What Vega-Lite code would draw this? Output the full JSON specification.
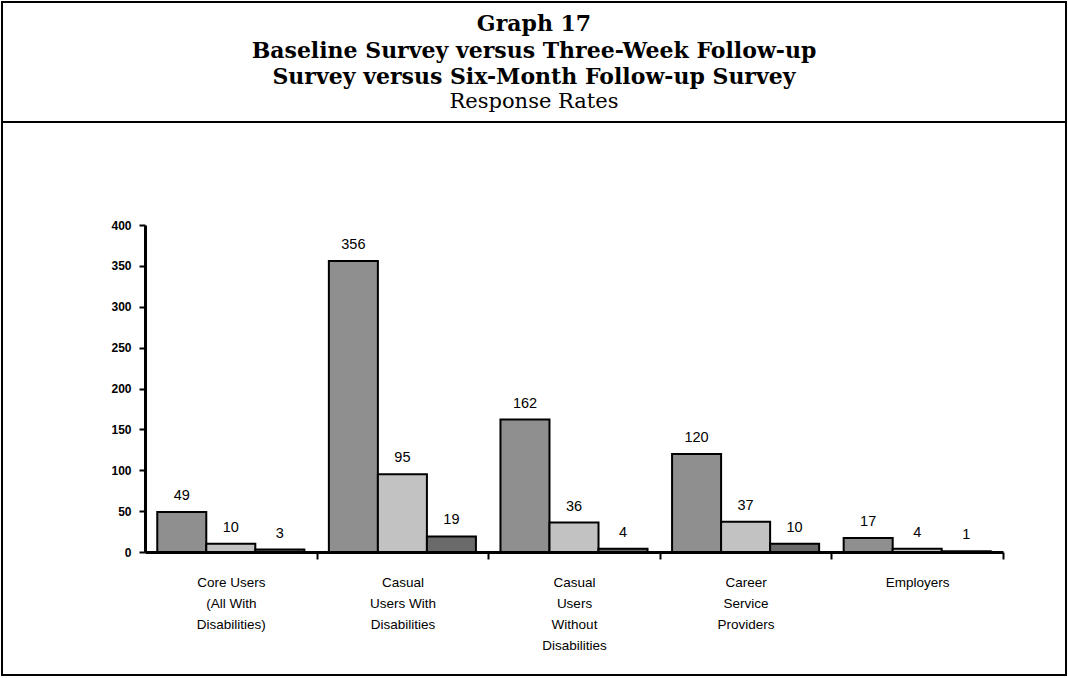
{
  "$schema": "https://vega.github.io/schema/vega-lite/v6.json",
  "width": 1064,
  "height": 673,
  "autosize": {"type": "none"},
  "padding": {"left": 2, "top": 2, "right": 2, "bottom": 3},
  "background": "white",
  "title": {
    "text": ["Graph 17", "Baseline Survey versus Three-Week Follow-up", "Survey versus Six-Month Follow-up Survey"],
    "subtitle": "Response Rates",
    "font": "DejaVu Serif",
    "fontSize": 22,
    "fontWeight": "bold",
    "color": "black",
    "lineHeight": 26.5,
    "subtitleFont": "DejaVu Serif",
    "subtitleFontSize": 21,
    "subtitleColor": "black",
    "subtitlePadding": 2,
    "subtitleLineHeight": 25,
    "offset": -111,
    "anchor": "middle",
    "frame": "group"
  },
  "config": {"view": {"stroke": "black", "strokeWidth": 2}},
  "data": {
    "values": [
      {"group": "Core Users (All With Disabilities)", "survey": "Baseline", "count": 49},
      {"group": "Core Users (All With Disabilities)", "survey": "Three-Week Follow-up", "count": 10},
      {"group": "Core Users (All With Disabilities)", "survey": "Six-Month Follow-up", "count": 3},
      {"group": "Casual Users With Disabilities", "survey": "Baseline", "count": 356},
      {"group": "Casual Users With Disabilities", "survey": "Three-Week Follow-up", "count": 95},
      {"group": "Casual Users With Disabilities", "survey": "Six-Month Follow-up", "count": 19},
      {"group": "Casual Users Without Disabilities", "survey": "Baseline", "count": 162},
      {"group": "Casual Users Without Disabilities", "survey": "Three-Week Follow-up", "count": 36},
      {"group": "Casual Users Without Disabilities", "survey": "Six-Month Follow-up", "count": 4},
      {"group": "Career Service Providers", "survey": "Baseline", "count": 120},
      {"group": "Career Service Providers", "survey": "Three-Week Follow-up", "count": 37},
      {"group": "Career Service Providers", "survey": "Six-Month Follow-up", "count": 10},
      {"group": "Employers", "survey": "Baseline", "count": 17},
      {"group": "Employers", "survey": "Three-Week Follow-up", "count": 4},
      {"group": "Employers", "survey": "Six-Month Follow-up", "count": 1}
    ]
  },
  "layer": [
    {
      "data": {"values": [{"part": "title separator"}]},
      "mark": {"type": "rule", "strokeWidth": 2, "color": "black"},
      "encoding": {"y": {"datum": 526, "type": "quantitative"}}
    },
    {
      "mark": {"type": "bar", "stroke": "black", "strokeWidth": 2},
      "encoding": {
        "x": {
          "field": "group",
          "type": "nominal",
          "sort": null,
          "scale": {"range": [143, 1001], "paddingInner": 0.143, "paddingOuter": 0.0715},
          "axis": {
            "title": null,
            "orient": "bottom",
            "offset": -123,
            "domainColor": "black",
            "domainWidth": 3,
            "bandPosition": 1,
            "tickOffset": 12.3,
            "labelOffset": -12.3,
            "tickColor": "black",
            "tickWidth": 2,
            "tickSize": 7,
            "labelAngle": 0,
            "labelFont": "Liberation Sans",
            "labelFontSize": 13.5,
            "labelColor": "black",
            "labelPadding": 16,
            "labelLineHeight": 21,
            "labelExpr": "datum.value == 'Core Users (All With Disabilities)' ? ['Core Users', '(All With', 'Disabilities)'] : datum.value == 'Casual Users With Disabilities' ? ['Casual', 'Users With', 'Disabilities'] : datum.value == 'Casual Users Without Disabilities' ? ['Casual', 'Users', 'Without', 'Disabilities'] : datum.value == 'Career Service Providers' ? ['Career', 'Service', 'Providers'] : datum.value"
          }
        },
        "xOffset": {
          "field": "survey",
          "type": "nominal",
          "sort": ["Baseline", "Three-Week Follow-up", "Six-Month Follow-up"],
          "scale": {"paddingInner": 0, "paddingOuter": 0}
        },
        "y": {
          "field": "count",
          "type": "quantitative",
          "scale": {"domain": [0, 400], "range": [550, 223], "nice": false},
          "axis": {
            "title": null,
            "offset": -143,
            "values": [0, 50, 100, 150, 200, 250, 300, 350, 400],
            "grid": false,
            "domainColor": "black",
            "domainWidth": 3,
            "tickColor": "black",
            "tickWidth": 2,
            "tickSize": 6,
            "labelFont": "Liberation Sans",
            "labelFontWeight": "bold",
            "labelFontSize": 12,
            "labelColor": "black",
            "labelPadding": 8
          }
        },
        "fill": {
          "field": "survey",
          "type": "nominal",
          "scale": {"domain": ["Baseline", "Three-Week Follow-up", "Six-Month Follow-up"], "range": ["#8f8f8f", "#c2c2c2", "#6a6a6a"]},
          "legend": null
        }
      }
    },
    {
      "mark": {"type": "text", "dy": -16, "font": "Liberation Sans", "fontSize": 14.5, "color": "black"},
      "encoding": {
        "x": {"field": "group", "type": "nominal", "sort": null},
        "xOffset": {"field": "survey", "type": "nominal", "sort": ["Baseline", "Three-Week Follow-up", "Six-Month Follow-up"]},
        "y": {"field": "count", "type": "quantitative"},
        "text": {"field": "count", "type": "quantitative"}
      }
    }
  ]
}
